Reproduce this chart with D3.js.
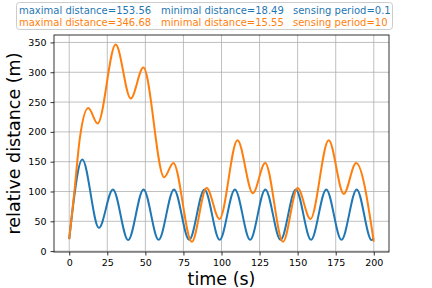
<!DOCTYPE html>
<html>
<head>
<meta charset="utf-8">
<script src="https://cdn.jsdelivr.net/npm/d3@7"></script>
<style>
  html, body { margin: 0; padding: 0; background: #fff; }
  svg text { font-family: "DejaVu Sans", sans-serif; }
</style>
</head>
<body>
<div id="chart"></div>
<script>
;(function() {
  "use strict";

  // Data (extrema of each curve)
  // ---------------------------------------------------------------------------
  var blueTime = [0, 8.6, 19.5, 28.7, 38.7, 48.8, 58.7, 68.8, 78.8, 88.8, 98.8,
    108.8, 118.8, 128.8, 138.8, 148.8, 158.8, 168.8, 178.8, 188.8, 198.6, 200];
  var blueDist = [20, 153.56, 39, 103.5, 18.5, 103.5, 19, 103.5, 19, 103.5, 19,
    103.5, 19, 103.5, 19, 103.5, 19, 103.5, 19, 103.5, 18.49, 22];

  var orangeTime = [0, 3, 7, 12.5, 18.7, 30.5, 40.4, 48.7, 62.3, 68.4, 80.5,
    90.2, 98.7, 110.5, 120.6, 128.7, 140.4, 150, 158.4, 170.4, 180.3, 188.4, 200];
  var orangeDist = [20, 90, 190, 240, 214, 346.68, 256, 308, 124, 148, 15.55,
    106, 54, 186, 97, 148, 15.6, 106, 54, 186, 96, 148, 16];

  var xTicks = [0, 25, 50, 75, 100, 125, 150, 175, 200];
  var yTicks = [0, 50, 100, 150, 200, 250, 300, 350];

  var legendRows = [
    { color: "#1f77b4", items: ["maximal distance=153.56", "minimal distance=18.49", "sensing period=0.1"] },
    { color: "#ff7f0e", items: ["maximal distance=346.68", "minimal distance=15.55", "sensing period=10"] }
  ];

  // Dimensions
  // ---------------------------------------------------------------------------
  var W = 432, H = 288;
  var margin = { top: 35, right: 43, bottom: 36, left: 54 };
  var width = W - margin.left - margin.right;
  var height = H - margin.top - margin.bottom;

  var svg = d3.select("#chart").append("svg")
    .attr("width", W)
    .attr("height", H);

  var x = d3.scaleLinear().domain([-10, 210]).range([0, width]);
  var y = d3.scaleLinear().domain([-1.5, 362.5]).range([height, 0]);

  var g = svg.append("g")
    .attr("transform", "translate(" + [margin.left, margin.top] + ")");

  // Grid
  g.append("g").selectAll("line")
    .data(xTicks)
    .enter().append("line")
      .attr("x1", function(d) { return x(d); })
      .attr("x2", function(d) { return x(d); })
      .attr("y1", 0).attr("y2", height)
      .attr("stroke", "#b0b0b0").attr("stroke-width", 0.8);

  g.append("g").selectAll("line")
    .data(yTicks)
    .enter().append("line")
      .attr("y1", function(d) { return y(d); })
      .attr("y2", function(d) { return y(d); })
      .attr("x1", 0).attr("x2", width)
      .attr("stroke", "#b0b0b0").attr("stroke-width", 0.8);

  // Lines
  var line = d3.line()
    .x(function(d) { return x(d[0]); })
    .y(function(d) { return y(d[1]); })
    .curve(d3.curveMonotoneX);

  g.append("path")
    .datum(d3.zip(blueTime, blueDist))
    .attr("d", line)
    .attr("fill", "none")
    .attr("stroke", "#1f77b4")
    .attr("stroke-width", 2);

  g.append("path")
    .datum(d3.zip(orangeTime, orangeDist))
    .attr("d", line)
    .attr("fill", "none")
    .attr("stroke", "#ff7f0e")
    .attr("stroke-width", 2);

  // Axes
  var xAxis = d3.axisBottom(x).tickValues(xTicks).tickSize(3.5).tickPadding(3.5);
  var yAxis = d3.axisLeft(y).tickValues(yTicks).tickSize(3.5).tickPadding(4);

  var gx = g.append("g")
    .attr("transform", "translate(0," + height + ")")
    .call(xAxis);
  var gy = g.append("g").call(yAxis);

  [gx, gy].forEach(function(a) {
    a.select(".domain").remove();
    a.selectAll("text")
      .attr("font-family", "DejaVu Sans")
      .attr("font-size", 9.5)
      .attr("fill", "#000");
    a.selectAll("line").attr("stroke", "#000").attr("stroke-width", 0.8);
  });

  g.append("rect")
    .attr("width", width)
    .attr("height", height)
    .attr("fill", "none")
    .attr("stroke", "#000")
    .attr("stroke-width", 0.8);

  // Labels
  svg.append("text")
    .attr("x", margin.left + width / 2)
    .attr("y", 285)
    .attr("text-anchor", "middle")
    .attr("font-size", 17.5)
    .attr("fill", "#000")
    .text("time (s)");

  svg.append("text")
    .attr("transform", "translate(20," + (margin.top + height / 2) + ") rotate(-90)")
    .attr("text-anchor", "middle")
    .attr("font-size", 17.5)
    .attr("fill", "#000")
    .text("relative distance (m)");

  // Legend
  var legend = svg.append("g");
  legend.append("rect")
    .attr("x", 16.5).attr("y", 2.5)
    .attr("width", 376).attr("height", 27)
    .attr("rx", 3)
    .attr("fill", "#fff").attr("fill-opacity", 0.8)
    .attr("stroke", "#ccc");

  var colX = [19, 161, 293];
  legendRows.forEach(function(row, i) {
    row.items.forEach(function(txt, j) {
      legend.append("text")
        .attr("x", colX[j])
        .attr("y", 13.5 + i * 12)
        .attr("font-size", 10)
        .attr("fill", row.color)
        .text(txt);
    });
  });
})();
</script>
</body>
</html>
